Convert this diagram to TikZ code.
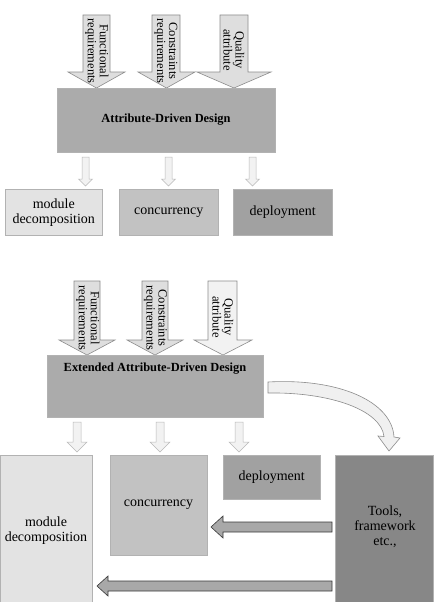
\documentclass[tikz,border=0pt]{standalone}
\usepackage{fontspec}
\setmainfont{Liberation Serif}
\definecolor{arrfill}{gray}{0.87}
\definecolor{arrline}{gray}{0.55}
\definecolor{addfill}{gray}{0.67}
\definecolor{lightbox}{gray}{0.89}
\definecolor{midbox}{gray}{0.76}
\definecolor{darkbox}{gray}{0.63}
\definecolor{toolbox}{gray}{0.53}
\definecolor{leftarr}{gray}{0.66}
\tikzset{
  arrshape/.style={fill=arrfill, draw=arrline, line width=0.6pt},
  smallarr/.style={fill=gray!10, draw=gray!55, line width=0.5pt},
  arrtext/.style={font=\fontsize{12.5}{12}\selectfont, align=center, inner sep=0pt, rotate=-90},
  boxshape/.style={draw=gray!60, line width=0.5pt},
  boxtext/.style={font=\fontsize{14}{15}\selectfont, align=center, inner sep=0pt},
  titletext/.style={font=\fontsize{12.4}{13}\selectfont\bfseries, inner sep=0pt},
}
% block arrow pointing down: [style] xl xr ytop yhead hl hr ytip
\newcommand\bdown[8][arrshape]{%
  \draw[#1] (#2,#4) -- (#3,#4) -- (#3,#5) -- (#7,#5) -- ({(#6+#7)/2},#8) -- (#6,#5) -- (#2,#5) -- cycle;}
\begin{document}
\begin{tikzpicture}[x=1pt,y=-1pt]
\useasboundingbox (0,0) rectangle (444,602);
\fill[white] (0,0) rectangle (444,602);

% ---------------- top diagram ----------------
\bdown{83}{110}{15}{72}{68}{125}{88}
\bdown{152}{180}{15}{72}{138}{195}{88}
\bdown{220}{248}{15}{72}{197}{271}{88}
\node[arrtext] (fr1) at (97,51) {Functional\\requirements};
\node[arrtext] (cr1) at (166,51) {Constraints\\requirements};
\node[arrtext] (qa1) at (234,50) {Quality\\attribute};

\node[boxshape, fill=addfill, minimum width=218pt, minimum height=64pt, anchor=north west, inner sep=0pt] (add) at (57,88) {};
\node[titletext] (addt) at (166,120) {Attribute-Driven Design};

\bdown[smallarr]{82}{89}{157}{179}{78.5}{92.5}{186}
\bdown[smallarr]{165}{172}{157}{179}{161.5}{175.5}{186}
\bdown[smallarr]{249}{256}{157}{179}{245.5}{259.5}{186}

\node[boxshape, fill=lightbox, minimum width=97pt, minimum height=46pt, anchor=north west, inner sep=0pt] (md1) at (5,189) {};
\node[boxtext] at (md1.center) {module\\decomposition};
\node[boxshape, fill=midbox, minimum width=99pt, minimum height=46pt, anchor=north west, inner sep=0pt] (cc1) at (119,189) {};
\node[boxtext] at (cc1.center) {concurrency};
\node[boxshape, fill=darkbox, minimum width=99pt, minimum height=46pt, anchor=north west, inner sep=0pt] (dp1) at (233,189) {};
\node[boxtext] at (dp1.center) {deployment};

% ---------------- bottom diagram ----------------
\bdown{74}{100}{281}{340}{59}{115}{355}
\bdown{142}{168}{281}{340}{127}{183}{355}
\bdown[arrshape, fill=gray!10]{208}{237}{281}{340}{194}{252}{355}
\node[arrtext] (fr2) at (88,318) {Functional\\requirements};
\node[arrtext] (cr2) at (155.5,318) {Constraints\\requirements};
\node[arrtext] (qa2) at (223,317) {Quality\\attribute};

\node[boxshape, fill=addfill, minimum width=216pt, minimum height=62pt, anchor=north west, inner sep=0pt] (eadd) at (47,355) {};
\node[titletext] (eaddt) at (155,369) {Extended Attribute-Driven Design};

% curved arrow to tools
\draw[arrshape, fill=gray!12] (268,382) .. controls (340,378) and (392,402) .. (394,437)
  -- (400,438) -- (389,451) -- (378,436) -- (384,436.5)
  .. controls (381,410) and (330,392) .. (268,393) -- cycle;

\bdown[smallarr]{73}{81}{422}{442}{67}{87}{452}
\bdown[smallarr]{156}{164}{422}{442}{150}{170}{452}
\bdown[smallarr]{235}{243}{422}{442}{229}{249}{452}

\node[boxshape, fill=lightbox, minimum width=92pt, minimum height=150pt, anchor=north west, inner sep=0pt] (md2) at (0,455) {};
\node[boxtext] at (46,531) {module\\decomposition};
\node[boxshape, fill=midbox, minimum width=97pt, minimum height=100pt, anchor=north west, inner sep=0pt] (cc2) at (110,455) {};
\node[boxtext] at (158.5,505) {concurrency};
\node[boxshape, fill=darkbox, minimum width=97pt, minimum height=44pt, anchor=north west, inner sep=0pt] (dp2) at (223,455) {};
\node[boxtext] at (dp2.center) {deployment};
\node[boxshape, fill=toolbox, minimum width=98pt, minimum height=150pt, anchor=north west, inner sep=0pt] (tl) at (335,455) {};
\node[boxtext] at (385,527) {Tools,\\framework\\etc.,};

% left-pointing block arrows
\draw[arrshape, fill=leftarr, draw=gray!45!black] (332,522) -- (223,522) -- (223,516) -- (211,527) -- (223,538) -- (223,532) -- (332,532) -- cycle;
\draw[arrshape, fill=leftarr, draw=gray!45!black] (332,581) -- (108,581) -- (108,576) -- (97,586) -- (108,596) -- (108,591) -- (332,591) -- cycle;
\end{tikzpicture}
\end{document}
